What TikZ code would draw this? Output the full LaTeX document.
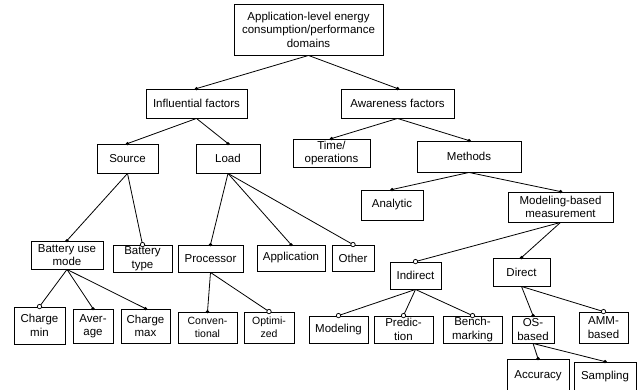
\documentclass[tikz,border=0pt]{standalone}
\usepackage{fontspec}
\setmainfont{Liberation Sans}
\begin{document}
\begin{tikzpicture}[x=1pt,y=-1pt,
  box/.style={draw=black,line width=0.9pt,inner sep=0pt,align=center,
    font=\fontsize{11.5pt}{13.5pt}\selectfont},
  small/.style={font=\fontsize{10.5pt}{13pt}\selectfont},
  conn/.style={line width=0.8pt}]
\useasboundingbox (0,0) rectangle (639,389);
% nodes: name, cx, cy, w, h
\node[box,minimum width=149,minimum height=51] (root) at (308.5,29.5) {Application-level energy\\consumption/performance\\domains};
\node[box,minimum width=101,minimum height=29] (infl) at (196.5,103.5) {Influential factors};
\node[box,minimum width=113,minimum height=29] (aware) at (397.5,103.5) {Awareness factors};
\node[box,minimum width=61,minimum height=29] (source) at (127.5,158.5) {Source};
\node[box,minimum width=64,minimum height=29] (load) at (228,158.5) {Load};
\node[box,minimum width=77,minimum height=28] (time) at (331.5,153) {Time/\\operations};
\node[box,minimum width=104,minimum height=31] (methods) at (469,156.5) {Methods};
\node[box,minimum width=62,minimum height=30] (analytic) at (392,205) {Analytic};
\node[box,minimum width=105,minimum height=30] (mbm) at (560.5,207) {Modeling-based\\measurement};
\node[box,minimum width=72,minimum height=28] (bum) at (67,255) {Battery use\\mode};
\node[box,minimum width=59,minimum height=27] (btype) at (142.5,258.5) {Battery\\type};
\node[box,minimum width=65,minimum height=27] (proc) at (210.5,258.5) {Processor};
\node[box,minimum width=68,minimum height=26] (app) at (291,258) {Application};
\node[box,minimum width=42,minimum height=26] (other) at (353,258) {Other};
\node[box,minimum width=51,minimum height=27] (indirect) at (415.5,275.5) {Indirect};
\node[box,minimum width=57,minimum height=28] (direct) at (521.5,272) {Direct};
\node[box,minimum width=51,minimum height=37] (cmin) at (39.5,325.5) {Charge\\min};
\node[box,minimum width=40,minimum height=34] (avg) at (93,326) {Aver-\\age};
\node[box,minimum width=49,minimum height=34] (cmax) at (145.5,326) {Charge\\max};
\node[box,small,minimum width=59,minimum height=31] (conv) at (207.5,327.5) {Conven-\\tional};
\node[box,small,minimum width=50,minimum height=31] (opt) at (269,327.5) {Optimi-\\zed};
\node[box,minimum width=59,minimum height=27] (modeling) at (338.5,329.5) {Modeling};
\node[box,minimum width=59,minimum height=27] (predic) at (403.5,329.5) {Predic-\\tion};
\node[box,minimum width=59,minimum height=27] (bench) at (472.5,329.5) {Bench-\\marking};
\node[box,minimum width=42,minimum height=27] (os) at (533,329.5) {OS-\\based};
\node[box,minimum width=49,minimum height=31] (amm) at (603.5,327.5) {AMM-\\based};
\node[box,minimum width=62,minimum height=33] (acc) at (538,375.5) {Accuracy};
\node[box,minimum width=62,minimum height=30] (samp) at (605,377) {Sampling};
% connectors
\newcommand{\mand}[2]{\draw[conn] (#1.south) -- (#2.north); \fill (#2.north) circle (1.8);}
\newcommand{\opti}[2]{\draw[conn] (#1.south) -- (#2.north); \draw[line width=0.7pt,fill=white] (#2.north) circle (2.2);}
\mand{root}{infl}
\mand{root}{aware}
\mand{infl}{source}
\mand{infl}{load}
\mand{aware}{time}
\mand{aware}{methods}
\mand{methods}{analytic}
\mand{methods}{mbm}
\mand{source}{bum}
\opti{source}{btype}
\mand{load}{proc}
\mand{load}{app}
\opti{load}{other}
\opti{mbm}{indirect}
\mand{mbm}{direct}
\opti{bum}{cmin}
\mand{bum}{avg}
\mand{bum}{cmax}
\mand{proc}{conv}
\opti{proc}{opt}
\opti{indirect}{modeling}
\opti{indirect}{predic}
\opti{indirect}{bench}
\mand{direct}{os}
\opti{direct}{amm}
\mand{os}{acc}
\mand{os}{samp}
\end{tikzpicture}
\end{document}
